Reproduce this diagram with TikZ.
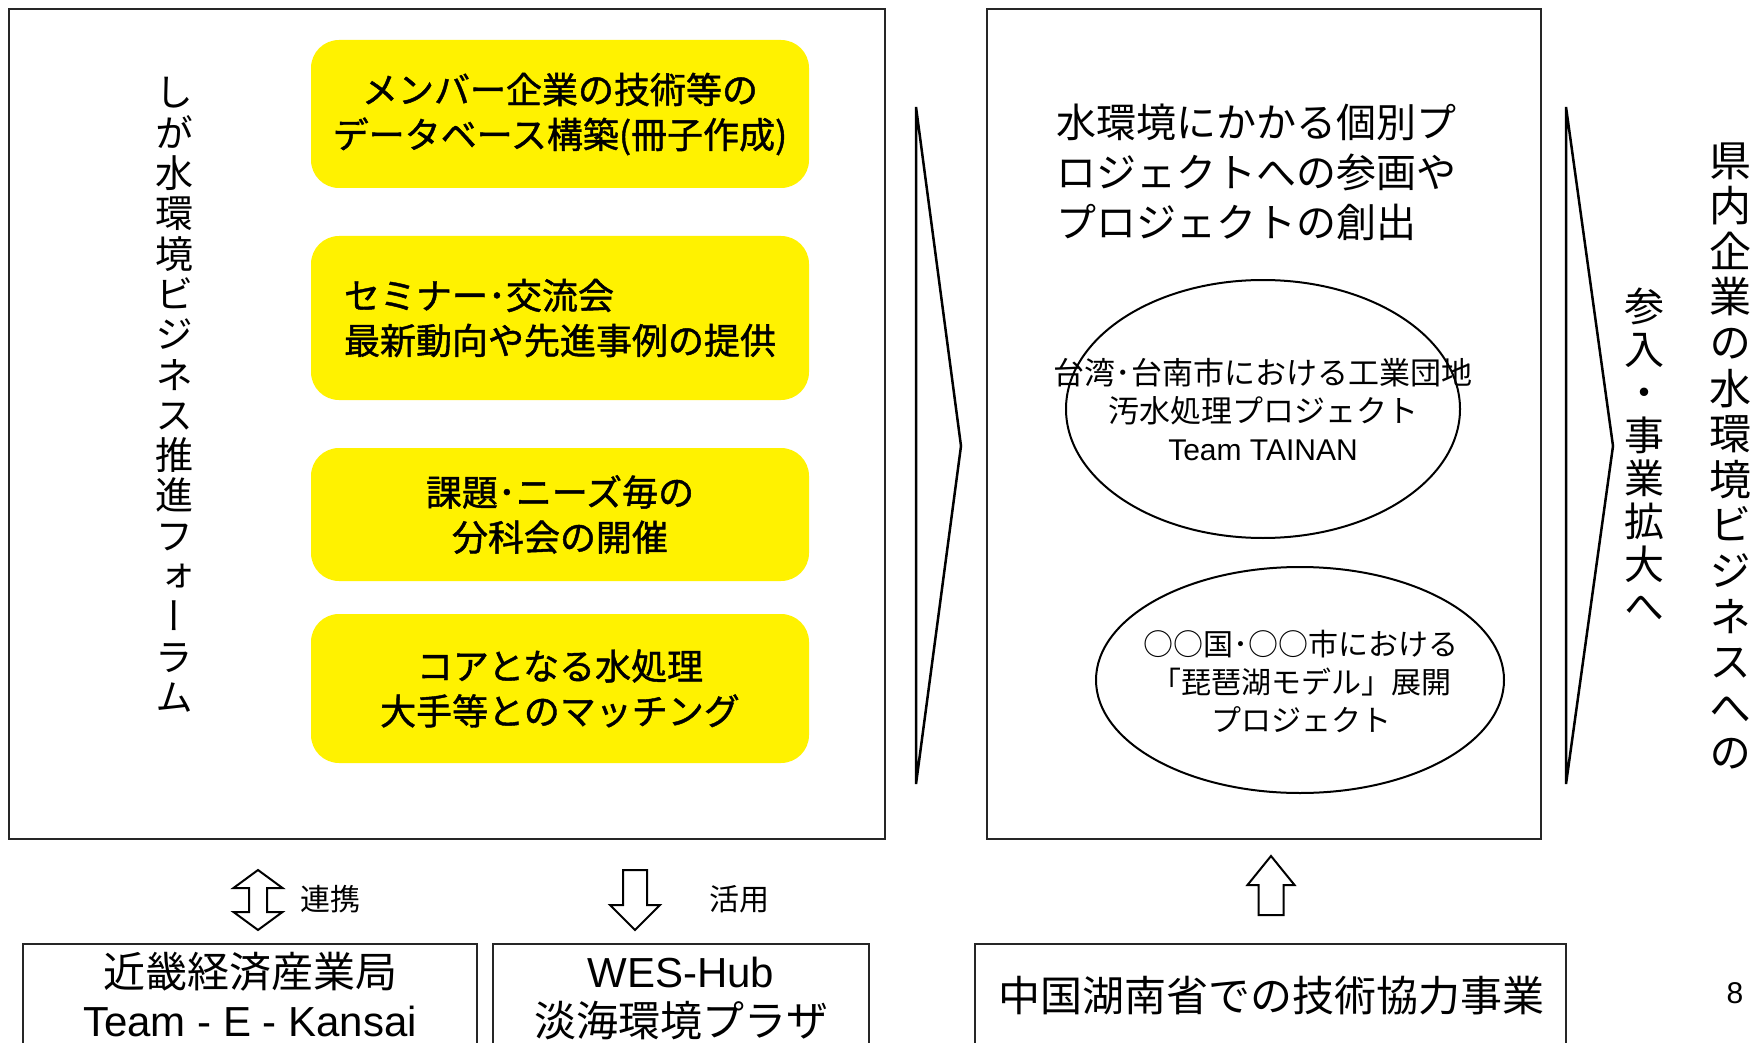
\documentclass[tikz,border=0pt]{standalone}
\usepackage{fontspec}
\setmainfont{Liberation Sans}
\newfontfamily\cjk{Noto Sans CJK JP}
\newfontfamily\cjkb[FakeBold=1.2]{Noto Sans CJK JP}
\newfontfamily\cjkv[RawFeature=+vert]{Noto Sans CJK JP}
\usetikzlibrary{shapes.geometric}
\begin{document}
\begin{tikzpicture}[x=1pt,y=-1pt,
  frame/.style={draw=black!85, line width=2, inner sep=0},
  ybox/.style={fill=yellow, rounded corners=28, minimum width=498, inner sep=0, align=center,
    font=\cjkb\fontsize{36}{45}\selectfont},
  oval/.style={ellipse, draw=black, line width=2, inner sep=0},
  chev/.style={draw=black, line width=2.5, line join=miter},
  blk/.style={draw=black, line width=2, fill=white},
  vtext/.style={align=center, inner sep=0},
  lbl/.style={inner sep=0, align=center}]
\useasboundingbox (0,0) rectangle (1756,1043);
\clip (0,0) rectangle (1756,1043);
\fill[white] (0,0) rectangle (1756,1043);

% left forum box
\node[frame, minimum width=876, minimum height=830] (forum) at (447,424) {};
\node[vtext, font=\cjkv\fontsize{38}{40.3}\selectfont] (forumtitle) at (174,395)
  {し\\が\\水\\環\\境\\ビ\\ジ\\ネ\\ス\\推\\進\\フ\\ォ\\ー\\ラ\\ム};

\node[ybox, minimum height=148] (y1) at (560,114) {メンバー企業の技術等の\\データベース構築(冊子作成)};
\node[ybox, minimum height=164, align=left] (y2) at (560,318) {セミナー･交流会\\最新動向や先進事例の提供};
\node[ybox, minimum height=133] (y3) at (560,514.5) {課題･ニーズ毎の\\分科会の開催};
\node[ybox, minimum height=149] (y4) at (560,688.5) {コアとなる水処理\\大手等とのマッチング};

% chevron 1
\coordinate (c1a) at (916,107);
\coordinate (c1b) at (961,446);
\coordinate (c1c) at (916,784);
\draw[chev] (c1a) -- (c1b) -- (c1c) -- cycle;

% middle box
\node[frame, minimum width=554, minimum height=830] (proj) at (1264,424) {};
\node[lbl, anchor=west, align=left, font=\cjk\fontsize{40}{50}\selectfont] (projtitle) at (1056,172)
  {水環境にかかる個別プ\\ロジェクトへの参画や\\プロジェクトの創出};

\node[oval, minimum width=394, minimum height=258] (e1) at (1263,409) {};
\node[lbl, font=\cjk\fontsize{31}{38}\selectfont] (e1t) at (1263,410)
  {台湾･台南市における工業団地\\汚水処理プロジェクト\\{\rmfamily\fontsize{30}{38}\selectfont Team TAINAN}};
\node[oval, minimum width=408, minimum height=226] (e2) at (1300,680) {};
\node[lbl, font=\cjk\fontsize{30}{38}\selectfont] (e2t) at (1301,681)
  {○○国･○○市における\\「琵琶湖モデル」展開\\プロジェクト};

% chevron 2
\coordinate (c2a) at (1566,107);
\coordinate (c2b) at (1613,446);
\coordinate (c2c) at (1566,784);
\draw[chev] (c2a) -- (c2b) -- (c2c) -- cycle;

\node[vtext, font=\cjkv\fontsize{40}{42.9}\selectfont] (sannyu) at (1644,455)
  {参\\入\\・\\事\\業\\拡\\大\\へ};
\node[vtext, font=\cjkv\fontsize{42}{45.6}\selectfont] (kennai) at (1730,456)
  {県\\内\\企\\業\\の\\水\\環\\境\\ビ\\ジ\\ネ\\ス\\へ\\の};

% block arrows
\draw[blk] (258,870) -- (282.5,888) -- (267,888) -- (267,912) -- (282.5,912) -- (258,930)
  -- (233.5,912) -- (249,912) -- (249,888) -- (233.5,888) -- cycle;
\node[lbl, font=\cjk\fontsize{30}{36}\selectfont] (renkei) at (330,899) {連携};
\draw[blk] (623,870) -- (647,870) -- (647,905) -- (660,905) -- (635,930) -- (610,905)
  -- (623,905) -- cycle;
\node[lbl, font=\cjk\fontsize{30}{36}\selectfont] (katsuyo) at (739,899) {活用};
\draw[blk] (1271,856) -- (1294.5,885) -- (1283.5,885) -- (1283.5,915) -- (1258.5,915)
  -- (1258.5,885) -- (1247.5,885) -- cycle;

% bottom boxes
\draw[frame] (23,1060) -- (23,944) -- (477,944) -- (477,1060);
\node[lbl, font=\cjk\fontsize{42}{49}\selectfont] (kinki) at (250,972) {近畿経済産業局};
\node[lbl, font=\rmfamily\fontsize{42}{49}\selectfont] (team) at (250,1021) {Team - E - Kansai};
\draw[frame] (493,1060) -- (493,944) -- (869,944) -- (869,1060);
\node[lbl, font=\rmfamily\fontsize{42}{49}\selectfont] (wes) at (681,972) {WES-Hub};
\node[lbl, font=\cjk\fontsize{42}{49}\selectfont] (plaza) at (681,1021) {淡海環境プラザ};
\draw[frame] (975,1060) -- (975,944) -- (1566,944) -- (1566,1060);
\node[lbl, font=\cjk\fontsize{42}{49}\selectfont] (china) at (1271,996) {中国湖南省での技術協力事業};

\node[lbl, font=\rmfamily\fontsize{30}{36}\selectfont] (page) at (1735,993) {8};
\end{tikzpicture}
\end{document}
